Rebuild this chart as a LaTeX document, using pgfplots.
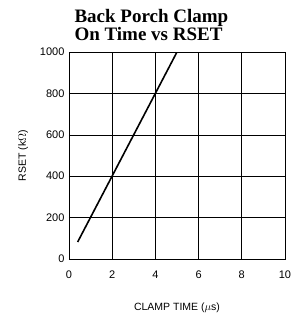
\documentclass[border=0pt]{standalone}
\usepackage{pgfplots}
\pgfplotsset{compat=1.18}
\usepackage{fontspec}
\setmainfont{Liberation Sans}
\newfontfamily\titlefont{Liberation Serif}
\begin{document}
\begin{tikzpicture}
\path[use as bounding box] (-69pt,-63pt) rectangle (222pt,259pt);
\begin{axis}[
  scale only axis,
  width=216pt, height=207pt,
  xmin=0, xmax=10, ymin=0, ymax=1000,
  xtick={0,2,...,10}, ytick={0,200,...,1000},
  grid=major,
  grid style={black, line width=0.6pt},
  axis line style={black, line width=0.8pt},
  tick style={draw=none},
  /pgf/number format/assume math mode=true,
  /pgf/number format/set thousands separator={},
  ticklabel style={font=\fontsize{11}{12}\selectfont},
  xticklabel style={yshift=-8pt},
  yticklabel style={xshift=-1pt},
  xlabel={CLAMP TIME ($\mu$s)},
  ylabel={RSET (k$\Omega$)},
  label style={font=\fontsize{10.5}{12}\selectfont},
  xlabel style={yshift=-18pt},
  ylabel style={yshift=5pt},
  title={Back Porch Clamp\\On Time vs RSET},
  title style={at={(0,1)}, anchor=south west, align=left, xshift=2pt, yshift=2pt,
    font=\titlefont\bfseries\fontsize{19}{17}\selectfont},
]
\addplot[black, line width=1.6pt] coordinates {(0.4,82) (5.0,1000)};
\end{axis}
\end{tikzpicture}
\end{document}
